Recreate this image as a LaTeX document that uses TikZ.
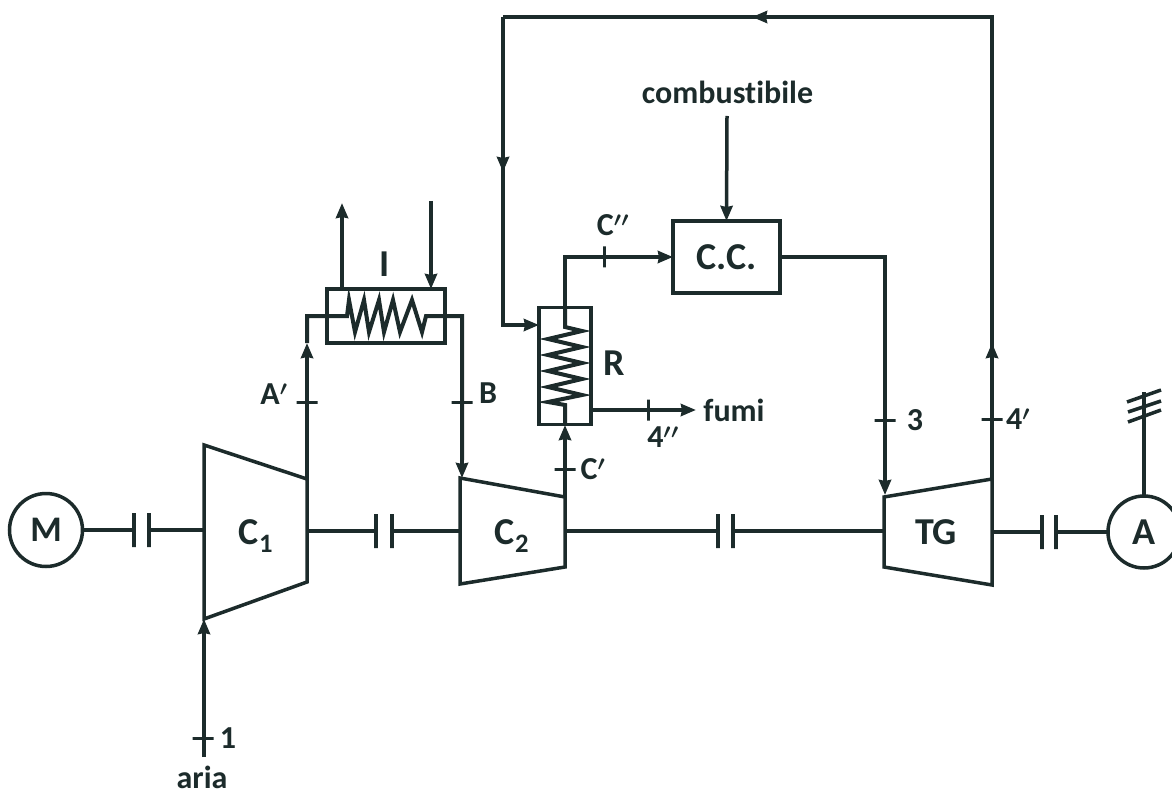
\documentclass[tikz,border=0pt]{standalone}
\usepackage{fontspec}
\setmainfont{Carlito}[BoldFont={Carlito Bold},Ligatures=NoCommon,Contextuals=NoAlternate]
\usetikzlibrary{arrows.meta}
\definecolor{ink}{HTML}{1C2B2B}
\newcommand{\txts}{\fontsize{32}{35}\selectfont\bfseries}
\newcommand{\txtl}{\fontsize{38}{42}\selectfont\bfseries}
\newcommand{\prm}{{\boldmath$^{\prime}$}}
\tikzstyle{lab} = [inner sep=0,outer sep=0,text=ink,font=\txts]
\tikzstyle{labl} = [inner sep=0,outer sep=0,text=ink,font=\txtl]
\tikzstyle{machine} = [circle, draw=ink, line width=3.5pt, inner sep=0, outer sep=0, text=ink, font=\txtl]
\tikzstyle{box} = [rectangle, draw=ink, line width=3.5pt, inner sep=0, outer sep=0, text=ink, font=\txtl]
\tikzstyle{plate} = [rectangle, draw=ink, line width=3.5pt, inner sep=0, outer sep=0, minimum width=0, minimum height=34pt]
\tikzstyle{tickh} = [rectangle, draw=ink, line width=3pt, inner sep=0, outer sep=0, minimum width=21pt, minimum height=0]
\tikzstyle{tickv} = [rectangle, draw=ink, line width=3pt, inner sep=0, outer sep=0, minimum width=0, minimum height=21pt]
\tikzstyle{pipe} = [draw=ink, line width=3.5pt, line join=miter]
\tikzstyle{line} = [draw=ink, line width=3.5pt, -{Stealth[length=15pt,width=12pt,inset=1pt]}]
\tikzstyle{coil} = [draw=ink, line width=4pt, line join=miter]

\begin{document}
\begin{tikzpicture}[x=1pt, y=-1pt]
\useasboundingbox (0,0) rectangle (1172,794);

% machines
\node [machine, minimum size=73pt, font=\fontsize{36}{40}\selectfont\bfseries] (M) at (46,530) {M};
\node [machine, minimum size=72pt] (A) at (1144,532) {A};
\node [labl] (C1) at (256,536) {C\textsubscript{1}};
\node [labl] (C2) at (512,536) {C\textsubscript{2}};
\node [labl] (TG) at (936,532) {TG};

\coordinate (C1a) at (204,445);
\coordinate (C1b) at (307,479);
\coordinate (C1c) at (307,582);
\coordinate (C1d) at (204,619);
\coordinate (C2a) at (460,478);
\coordinate (C2b) at (565,497);
\coordinate (C2c) at (565,567);
\coordinate (C2d) at (460,584);
\coordinate (TGa) at (884,497);
\coordinate (TGb) at (992,479);
\coordinate (TGc) at (992,585);
\coordinate (TGd) at (884,567);
\path [pipe] (C1a) -- (C1b) -- (C1c) -- (C1d) -- cycle;
\path [pipe] (C2a) -- (C2b) -- (C2c) -- (C2d) -- cycle;
\path [pipe] (TGa) -- (TGb) -- (TGc) -- (TGd) -- cycle;

% couplings
\node [plate] (p1) at (134,530) {};
\node [plate] (p2) at (149,530) {};
\node [plate] (p3) at (376,531) {};
\node [plate] (p4) at (392,531) {};
\node [plate] (p5) at (718,531) {};
\node [plate] (p6) at (733,531) {};
\node [plate] (p7) at (1042,532) {};
\node [plate] (p8) at (1056,532) {};
\path [pipe] (M) -- (p1);
\path [pipe] (p2) -- (204,530);
\path [pipe] (307,531) -- (p3);
\path [pipe] (p4) -- (460,531);
\path [pipe] (565,531) -- (p5);
\path [pipe] (p6) -- (884,531);
\path [pipe] (992,532) -- (p7);
\path [pipe] (p8) -- (A);

% boxes
\node [box, minimum width=118pt, minimum height=54pt] (I) at (386,316) {};
\node [box, minimum width=52pt, minimum height=117pt] (R) at (565,366) {};
\node [box, minimum width=107pt, minimum height=72pt] (CC) at (726.5,257) {C.C.};
\node [labl] (Il) at (385,264) {I};
\node [labl] (Rl) at (614,363) {R};

% free ends
\coordinate (aria0) at (204,757);
\coordinate (in0) at (431,201);
\coordinate (out0) at (342,203);
\coordinate (top1) at (992,17);
\coordinate (top2) at (503,17);
\coordinate (rin) at (503,325);
\coordinate (fuel) at (727,116);
\coordinate (smoke) at (696,410);
\coordinate (ant) at (1144,392);

% air and compressors
\path [line] (aria0) -- (C1d);
\path [line] (307,479) -- (307,343);
\path [coil] (307,343) -- (307,316) -- (347,316) -- (349,300) -- (355,332) -- (364,300) -- (369,332) -- (379,300) -- (384,332) -- (393,300) -- (400,332) -- (412,300) -- (422,332) -- (426,316) -- (462,316) -- (462,460);
\path [line] (462,400) -- (462,478);
\path [line] (I.north -| out0) -- (out0);
\path [line] (in0) -- (in0 |- I.north);

% regenerator
\path [line] (565,497) -- (565,425);
\path [coil] (R.south) -- (565,405) -- (548,402) -- (582,395) -- (548,387) -- (582,379) -- (548,371) -- (582,363) -- (548,355) -- (582,347) -- (548,339) -- (582,331) -- (565,327) -- (R.north);
\path [pipe] (R.north) -- (565,257) -- (640,257);
\path [line] (640,257) -- (CC.west);
\path [line] (R.east |- smoke) -- (smoke);
\path [pipe] (top2) -- (rin) -- (520,325);
\path [line] (520,325) -- (R.west |- rin);

% combustion and turbine
\path [line] (fuel) -- (CC.north);
\path [pipe] (CC.east) -- (885,257) -- (885,450);
\path [line] (885,450) -- (885,495);
\path [pipe] (TGb) -- (top1) -- (top2);
\path [line] (992,400) -- (992,343);
\path [line] (800,17) -- (752,17);
\path [line] (503,120) -- (503,172);

% generator
\path [pipe] (A) -- (ant);
\draw [ink, line width=3.5pt] (1127,402) -- (1161,390);
\draw [ink, line width=3.5pt] (1128,412) -- (1161,401);
\draw [ink, line width=3.5pt] (1128,422) -- (1161,410);

% stations
\node [tickh] (t1) at (203,738) {};
\node [tickh] (tA) at (307,402) {};
\node [tickh] (tB) at (462,402) {};
\node [tickh] (tC1) at (565,469) {};
\node [tickv] (tC2) at (604,257) {};
\node [tickv] (t4b) at (648,410) {};
\node [tickh] (t3) at (885,420) {};
\node [tickh] (t4) at (992,419) {};

\node [lab] (l1) at (228,738) {1};
\node [lab] (lar) at (202,777) {aria};
\node [lab] (lA) at (274,394) {A\prm};
\node [lab] (lB) at (488,393) {B};
\node [lab] (lC1) at (593,469) {C\prm};
\node [lab] (lC2) at (613,225) {C\prm\prm};
\node [lab] (l4b) at (663,437) {4\prm\prm};
\node [lab] (lf) at (734,410) {fumi};
\node [lab] (l3) at (915,420) {3};
\node [lab] (l4) at (1018,419) {4\prm};
\node [lab] (lc) at (727.5,92) {combustibile};

\end{tikzpicture}
\end{document}
